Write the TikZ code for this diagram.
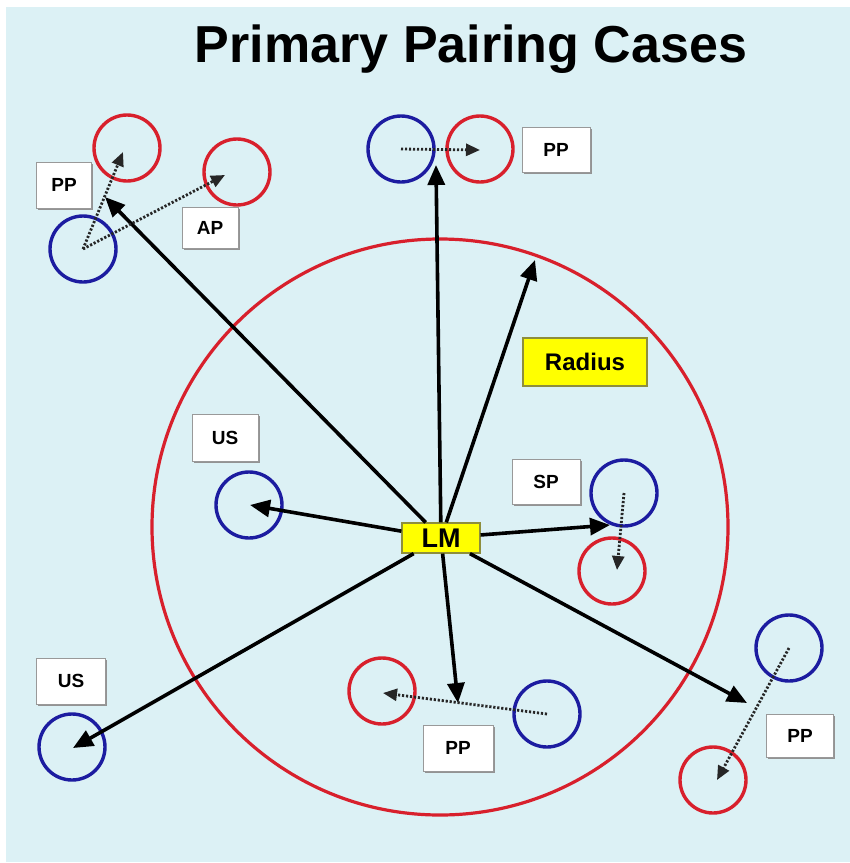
\documentclass[tikz,border=0pt]{standalone}
\usepackage{fontspec}
\setmainfont{Liberation Sans}
\usetikzlibrary{arrows.meta,shadows}
\definecolor{bgcyan}{HTML}{DCF1F5}
\definecolor{circred}{HTML}{D8202C}
\definecolor{circblue}{HTML}{1C1CA0}
\definecolor{lmyellow}{HTML}{FFFF00}
\definecolor{yborder}{HTML}{8E8E3C}
\tikzset{
  redc/.style={circle,draw=circred,line width=3.4pt,minimum size=66pt,inner sep=0pt},
  bluec/.style={circle,draw=circblue,line width=3.4pt,minimum size=66pt,inner sep=0pt},
  tag/.style={draw=gray!80,fill=white,line width=1pt,font=\bfseries\fontsize{19}{19}\selectfont,
     inner sep=0pt,drop shadow={shadow xshift=1.5pt,shadow yshift=-1.5pt,fill=gray!85,opacity=1}},
  solidarrow/.style={line width=3.6pt,-{Triangle[length=20pt,width=17pt]}},
  dotarrow/.style={line width=2.8pt,dash pattern=on 2.2pt off 1.8pt,black!85,-{Triangle[length=14pt,width=12pt]}},
}
\begin{document}
\begin{tikzpicture}[x=1pt,y=-1pt]
\useasboundingbox (0,0) rectangle (850,863);
\fill[bgcyan] (6,7) rectangle (850,862);
\node[font=\bfseries\fontsize{52}{52}\selectfont,anchor=base] (title) at (471,62) {Primary Pairing Cases};
% big radius circle
\node[circle,draw=circred,line width=3.2pt,minimum size=576pt,inner sep=0pt] (big) at (440,527) {};
% small circles
\node[redc] (r1) at (127,148) {};
\node[redc] (r2) at (237,172) {};
\node[bluec] (b1) at (83,249) {};
\node[bluec] (b2) at (401,149) {};
\node[redc] (r3) at (480,149) {};
\node[bluec] (b3) at (249,505) {};
\node[bluec] (b4) at (624,493) {};
\node[redc] (r4) at (612,571) {};
\node[bluec] (b5) at (72,747) {};
\node[redc] (r5) at (382,691) {};
\node[bluec] (b6) at (547,714) {};
\node[bluec] (b7) at (789,648) {};
\node[redc] (r6) at (713,780) {};
% labels
\node[tag,minimum width=55pt,minimum height=46pt] (pp1) at (64,185) {PP};
\node[tag,minimum width=56pt,minimum height=41pt] (ap) at (210,228) {AP};
\node[tag,minimum width=68pt,minimum height=45pt] (pp2) at (556,150) {PP};
\node[tag,minimum width=66pt,minimum height=47pt] (us1) at (225,438) {US};
\node[tag,minimum width=68pt,minimum height=45pt] (sp) at (546,482) {SP};
\node[tag,minimum width=69pt,minimum height=46pt] (us2) at (71,681) {US};
\node[tag,minimum width=70pt,minimum height=46pt] (pp3) at (458,748) {PP};
\node[tag,minimum width=67pt,minimum height=43pt] (pp4) at (800,736) {PP};
\node[draw=yborder,fill=lmyellow,line width=1.2pt,minimum width=124pt,minimum height=48pt,inner sep=0pt,
      font=\bfseries\fontsize{24}{24}\selectfont] (radius) at (585,362) {Radius};
% LM
\node[draw=yborder,fill=lmyellow,line width=1.2pt,minimum width=78pt,minimum height=30pt,inner sep=0pt,
      font=\bfseries\fontsize{27}{27}\selectfont] (LM) at (441,538) {LM};
% arrow tips
\coordinate (t1) at (105,197);
\coordinate (t2) at (436,165);
\coordinate (t3) at (535,260);
\coordinate (t4) at (610,525);
\coordinate (t5) at (250,505);
\coordinate (t6) at (73,748);
\coordinate (t7) at (458,703);
\coordinate (t8) at (747,703);
\foreach \t in {t1,t2,t3,t4,t5,t6,t7,t8} \draw[solidarrow] (LM) -- (\t);
% dotted pairing arrows
\coordinate (d1) at (123,152);
\coordinate (d2) at (225,175);
\coordinate (d3) at (480,150);
\coordinate (d4) at (617,570);
\coordinate (d5) at (383,693);
\coordinate (d6) at (717,780);
\draw[dotarrow] (b1.center) -- (d1);
\draw[dotarrow] (b1.center) -- (d2);
\draw[dotarrow] (b2.center) -- (d3);
\draw[dotarrow] (b4.center) -- (d4);
\draw[dotarrow] (b6.center) -- (d5);
\draw[dotarrow] (b7.center) -- (d6);
\end{tikzpicture}
\end{document}
